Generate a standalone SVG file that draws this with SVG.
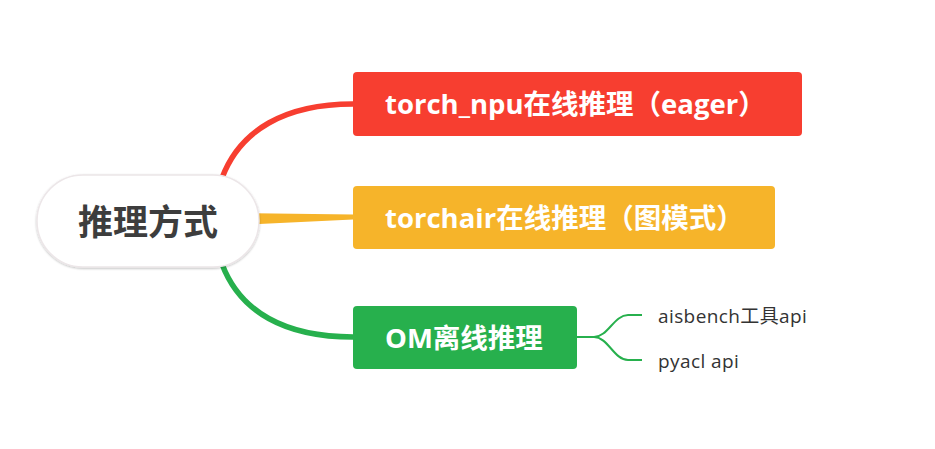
<svg xmlns="http://www.w3.org/2000/svg" width="935" height="449" viewBox="0 0 935 449">
<style>
.box-text{font-family:"Open Sans","Noto Sans CJK SC",sans-serif;font-weight:bold;font-size:27.5px;fill:#ffffff}
.sub-text{font-family:"Open Sans","Noto Sans CJK SC",sans-serif;font-size:19px;letter-spacing:0.4px;fill:#333333}
.root-text{font-family:"Noto Sans CJK SC","Liberation Sans",sans-serif;font-weight:bold;font-size:35px;fill:#3d3d3d}
.conn{fill:none;stroke-linecap:butt}
</style>
<defs>
<filter id="sh" x="-10%" y="-20%" width="120%" height="140%">
<feGaussianBlur in="SourceAlpha" stdDeviation="1.2"/>
<feOffset dx="0" dy="0.5" result="b"/>
<feComponentTransfer><feFuncA type="linear" slope="0.25"/></feComponentTransfer>
<feMerge><feMergeNode/><feMergeNode in="SourceGraphic"/></feMerge>
</filter>
</defs>
<rect width="935" height="449" fill="#ffffff"/>
<g id="connectors">
<path class="conn" d="M 213 202 L 222 178 C 240 130, 285 104, 353 104" stroke="#F73E30" stroke-width="5.5"/>
<path d="M 240 213 L 353 214.5 L 353 219.5 L 240 225 Z" fill="#F6B42A"/>
<path class="conn" d="M 213 240 L 222 264 C 240 312, 285 337, 353 337" stroke="#27B04D" stroke-width="5.5"/>
<path class="conn" d="M 577 337 L 594 337 C 608 337, 614 315, 628 315 L 642 315" stroke="#27B04D" stroke-width="2"/>
<path class="conn" d="M 594 337 C 608 337, 614 360, 628 360 L 642 360" stroke="#27B04D" stroke-width="2"/>
</g>
<g id="root">
<rect x="37" y="175" width="222" height="92" rx="46" ry="46" fill="#ffffff" stroke="#ece6e8" stroke-width="1.5" filter="url(#sh)"/>
<text class="root-text" x="148" y="235" text-anchor="middle">推理方式</text>
</g>
<g id="node-eager">
<rect x="353" y="72" width="449" height="64" rx="4" fill="#F73E30"/>
<text class="box-text" x="385" y="114">torch_npu在线推理（eager）</text>
</g>
<g id="node-torchair">
<rect x="353" y="186" width="422" height="63" rx="4" fill="#F6B42A"/>
<text class="box-text" x="385" y="228">torchair在线推理（图模式）</text>
</g>
<g id="node-om">
<rect x="353" y="306" width="224" height="63" rx="4" fill="#27B04D"/>
<text class="box-text" x="385" y="348">OM离线推理</text>
</g>
<g id="node-aisbench">
<text class="sub-text" x="658" y="323">aisbench工具api</text>
</g>
<g id="node-pyacl">
<text class="sub-text" x="658" y="368">pyacl api</text>
</g>
</svg>
